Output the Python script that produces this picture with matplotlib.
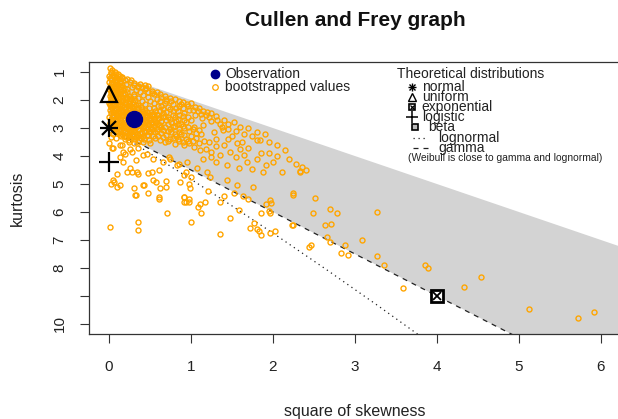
import numpy as np
import matplotlib
matplotlib.use("Agg")
import matplotlib.pyplot as plt

plt.rcParams['font.family'] = ['Liberation Sans', 'DejaVu Sans']

# ---------------- data ----------------
x_ticks = [0, 1, 2, 3, 4, 5, 6]
y_ticks = [1, 2, 3, 4, 5, 6, 7, 8, 9, 10]
y_tick_labels = ["1", "2", "3", "4", "5", "6", "7", "8", "", "10"]

observation_sq_skew = [0.30]
observation_kurt = [2.68]

# theoretical distributions (square of skewness, kurtosis)
normal_pt = (0.0, 3.0)
uniform_pt = (0.0, 1.8)
logistic_pt = (0.0, 4.2)
exponential_pt = (4.0, 9.0)

beta_region_sq_skew = [0.0, 7.0, 7.0, 0.0]
beta_region_kurt = [1.0, 8.0, 13.5, 3.0]

gamma_sq_skew = [0.0, 7.0]
gamma_kurt = [3.0, 13.5]

lognormal_sq_skew = [0.0, 0.1824, 0.4651, 0.961, 1.4884, 2.048, 2.6406, 3.267, 3.9279]
lognormal_kurt = [3.0, 3.326, 3.838, 4.756, 5.758, 6.850, 8.035, 9.320, 10.710]

# bootstrapped values (square of skewness, kurtosis)
boot_core = [
    (0.01, 0.86), (0.04, 0.93), (0.02, 1.02), (0.07, 1.00), (0.11, 1.06), (0.00, 1.13), (0.05, 1.12),
    (0.09, 1.16), (0.13, 1.13), (0.02, 1.24), (0.07, 1.27), (0.12, 1.25), (0.16, 1.21), (0.00, 1.35),
    (0.04, 1.38), (0.09, 1.36), (0.14, 1.34), (0.19, 1.30), (0.02, 1.48), (0.06, 1.51), (0.11, 1.47),
    (0.16, 1.45), (0.21, 1.42), (0.00, 1.60), (0.04, 1.63), (0.08, 1.58), (0.13, 1.61), (0.18, 1.56),
    (0.03, 1.73), (0.07, 1.70), (0.11, 1.75), (0.15, 1.68), (0.22, 1.62),
    (0.01, 1.84), (0.05, 1.86), (0.09, 1.82), (0.14, 1.88), (0.19, 1.80), (0.24, 1.85), (0.02, 1.97),
    (0.07, 2.00), (0.12, 1.95), (0.17, 1.99), (0.22, 1.94), (0.27, 1.98), (0.00, 2.10), (0.04, 2.12),
    (0.09, 2.08), (0.14, 2.13), (0.19, 2.07), (0.24, 2.11), (0.29, 2.06), (0.03, 2.24), (0.08, 2.27),
    (0.13, 2.22), (0.18, 2.26), (0.23, 2.21), (0.28, 2.25), (0.33, 2.19), (0.01, 2.37), (0.06, 2.35),
    (0.11, 2.39), (0.16, 2.34), (0.21, 2.38), (0.26, 2.33), (0.31, 2.37), (0.36, 2.30),
    (0.02, 2.47), (0.08, 2.50), (0.13, 2.45), (0.19, 2.49), (0.25, 2.46), (0.31, 2.51), (0.37, 2.44),
    (0.43, 2.48), (0.49, 2.52), (0.00, 2.61), (0.05, 2.58), (0.11, 2.62), (0.16, 2.57), (0.22, 2.60),
    (0.28, 2.63), (0.34, 2.59), (0.40, 2.56), (0.46, 2.61), (0.53, 2.58), (0.03, 2.71), (0.09, 2.74),
    (0.14, 2.70), (0.20, 2.73), (0.26, 2.69), (0.38, 2.72), (0.44, 2.75), (0.50, 2.70), (0.56, 2.74),
    (0.01, 2.83), (0.06, 2.86), (0.12, 2.82), (0.17, 2.85), (0.23, 2.87), (0.35, 2.84), (0.41, 2.81),
    (0.47, 2.86), (0.53, 2.83), (0.04, 2.95), (0.10, 2.98), (0.15, 2.94), (0.21, 2.97), (0.27, 2.99),
    (0.33, 2.96), (0.39, 2.93), (0.45, 2.97), (0.51, 2.95), (0.02, 3.07), (0.08, 3.10), (0.13, 3.06),
    (0.19, 3.09), (0.25, 3.11), (0.31, 3.08), (0.37, 3.05), (0.43, 3.09), (0.49, 3.12), (0.05, 3.21),
    (0.11, 3.18), (0.16, 3.22), (0.22, 3.19), (0.28, 3.23), (0.34, 3.20), (0.40, 3.17), (0.46, 3.24),
    (0.03, 3.31), (0.09, 3.34), (0.15, 3.30), (0.21, 3.33), (0.27, 3.35), (0.33, 3.31), (0.39, 3.36),
]

boot_core_fill = [
    (0.03, 0.98), (0.08, 1.08), (0.01, 1.20), (0.06, 1.19), (0.10, 1.30), (0.03, 1.42), (0.08, 1.44),
    (0.13, 1.40), (0.01, 1.55), (0.06, 1.57), (0.10, 1.53), (0.15, 1.52), (0.02, 1.67), (0.06, 1.66),
    (0.10, 1.64), (0.17, 1.63), (0.05, 1.79), (0.09, 1.77), (0.13, 1.80), (0.18, 1.74), (0.22, 1.72),
    (0.03, 1.91), (0.07, 1.93), (0.11, 1.90), (0.16, 1.92), (0.21, 1.89), (0.26, 1.91), (0.31, 1.87),
    (0.02, 2.04), (0.06, 2.03), (0.11, 2.02), (0.16, 2.05), (0.21, 2.01), (0.26, 2.04), (0.32, 2.00),
    (0.01, 2.17), (0.06, 2.19), (0.11, 2.16), (0.16, 2.18), (0.21, 2.15), (0.26, 2.18), (0.31, 2.14),
    (0.36, 2.16), (0.04, 2.30), (0.09, 2.31), (0.14, 2.29), (0.19, 2.31), (0.24, 2.28), (0.29, 2.30),
    (0.34, 2.27), (0.40, 2.32),
    (0.05, 2.41), (0.10, 2.43), (0.16, 2.40), (0.22, 2.42), (0.28, 2.41), (0.34, 2.43), (0.40, 2.40),
    (0.46, 2.42), (0.05, 2.54), (0.10, 2.53), (0.16, 2.55), (0.22, 2.52), (0.28, 2.54), (0.34, 2.53),
    (0.40, 2.50), (0.46, 2.54), (0.52, 2.50), (0.58, 2.53), (0.02, 2.66), (0.07, 2.67), (0.13, 2.65),
    (0.19, 2.66), (0.25, 2.64), (0.31, 2.66), (0.37, 2.65), (0.43, 2.67), (0.49, 2.64), (0.55, 2.66),
    (0.61, 2.64), (0.04, 2.78), (0.09, 2.79), (0.15, 2.77), (0.21, 2.79), (0.27, 2.78), (0.33, 2.80),
    (0.39, 2.77), (0.45, 2.79), (0.51, 2.78), (0.57, 2.80), (0.63, 2.76), (0.02, 2.90), (0.07, 2.91),
    (0.13, 2.89), (0.19, 2.91), (0.25, 2.90), (0.31, 2.92), (0.37, 2.89), (0.43, 2.91), (0.49, 2.90),
    (0.55, 2.92), (0.61, 2.89), (0.06, 3.02), (0.12, 3.03), (0.17, 3.01), (0.23, 3.03), (0.29, 3.02),
    (0.35, 3.04), (0.41, 3.01), (0.47, 3.03), (0.53, 3.02), (0.59, 3.04), (0.09, 3.14), (0.14, 3.15),
    (0.20, 3.13), (0.26, 3.15), (0.32, 3.14), (0.38, 3.16), (0.44, 3.13), (0.50, 3.15), (0.56, 3.14),
    (0.13, 3.26), (0.18, 3.27), (0.24, 3.25), (0.30, 3.27), (0.36, 3.26), (0.42, 3.28), (0.48, 3.25),
    (0.54, 3.27), (0.19, 3.40), (0.25, 3.41), (0.31, 3.39), (0.37, 3.41), (0.43, 3.40), (0.49, 3.42),
    (0.24, 3.50), (0.30, 3.52), (0.36, 3.49), (0.42, 3.51), (0.50, 3.53),
]

boot_near_core = [
    (0.16, 1.18), (0.22, 1.24), (0.27, 1.29), (0.26, 1.35), (0.31, 1.40), (0.38, 1.42), (0.28, 1.52),
    (0.35, 1.48), (0.44, 1.46), (0.47, 1.50), (0.40, 1.55), (0.33, 1.63), (0.44, 1.62), (0.38, 1.70),
    (0.48, 1.72), (0.52, 1.66), (0.30, 1.80), (0.42, 1.83), (0.55, 1.80), (0.36, 1.92), (0.47, 1.90),
    (0.58, 1.95), (0.63, 1.88), (0.40, 2.03), (0.50, 2.02), (0.62, 2.05), (0.44, 2.15), (0.55, 2.12),
    (0.68, 2.10), (0.39, 2.26), (0.49, 2.28), (0.60, 2.22), (0.72, 2.25), (0.44, 2.36), (0.56, 2.40),
    (0.66, 2.33), (0.78, 2.38),
]

boot_upper_gray = [
    (0.30, 1.45), (0.36, 1.55), (0.45, 1.58), (0.52, 1.75), (0.58, 1.72), (0.62, 1.80), (0.68, 1.86),
    (0.70, 1.95), (0.75, 1.92), (0.80, 1.98), (0.76, 2.05), (0.85, 2.02), (0.90, 2.08), (0.88, 2.15),
    (0.96, 2.22), (1.00, 2.12), (1.05, 2.25), (1.02, 2.35), (1.10, 2.30), (1.15, 2.38), (1.12, 2.50),
    (1.18, 2.55), (1.25, 2.48), (1.22, 2.62), (1.30, 2.58), (1.32, 2.70), (1.40, 2.72), (1.38, 2.95),
    (1.45, 2.85), (1.52, 2.80), (1.55, 3.10), (1.60, 2.95), (1.65, 3.20), (1.70, 3.00), (1.75, 3.30),
    (1.90, 3.20), (1.95, 3.50), (2.05, 3.60), (2.15, 3.80), (2.20, 4.10), (1.60, 3.75), (1.85, 3.90),
    (1.45, 3.40), (1.30, 3.65), (1.18, 3.75), (1.25, 4.05),
]

boot_gray = [
    (0.60, 2.55), (0.66, 2.48), (0.72, 2.60), (0.78, 2.52), (0.84, 2.66), (0.90, 2.58), (0.70, 2.72),
    (0.76, 2.80), (0.82, 2.75), (0.88, 2.86), (0.94, 2.78), (1.00, 2.70), (0.62, 2.88), (0.68, 2.95),
    (0.74, 3.02), (0.80, 2.93), (0.86, 3.05), (0.92, 3.00), (0.98, 3.12), (1.04, 2.95), (1.10, 3.08),
    (0.58, 3.10), (0.64, 3.18), (0.70, 3.26), (0.76, 3.15), (0.82, 3.30), (0.88, 3.22), (0.94, 3.38),
    (1.00, 3.28), (1.06, 3.35), (1.12, 3.20), (0.56, 3.35), (0.62, 3.42), (0.68, 3.50), (0.74, 3.40),
    (0.80, 3.58), (0.86, 3.48), (0.92, 3.62), (0.98, 3.55), (1.04, 3.66), (1.16, 3.45), (0.84, 2.40),
    (0.92, 2.45), (0.98, 2.35), (0.74, 2.32), (0.86, 2.20), (0.64, 2.20), (0.95, 2.15), (1.05, 2.55),
    (1.08, 2.40), (1.14, 2.65), (1.20, 2.42), (1.28, 3.14), (1.39, 3.08), (1.45, 3.02), (1.56, 3.55),
    (1.62, 3.49), (1.80, 3.43), (1.84, 3.43), (1.80, 3.14), (1.48, 3.85), (1.11, 3.79), (1.15, 4.09),
    (1.25, 3.85), (1.31, 4.20), (1.44, 4.32), (1.58, 4.44), (1.68, 4.20), (1.80, 4.09), (1.92, 4.32),
    (2.00, 4.20), (2.11, 4.56), (1.88, 4.56), (2.33, 4.56), (1.25, 2.75), (1.35, 2.85), (1.15, 2.90),
    (1.30, 3.40), (1.40, 3.60), (1.50, 3.30), (1.70, 3.70), (1.65, 3.95), (1.95, 3.90), (2.05, 4.00),
    (1.35, 3.95), (1.22, 3.50), (1.55, 4.05), (1.75, 4.45), (1.07, 4.44), (0.85, 4.27), (0.94, 4.57),
    (1.00, 4.75), (0.73, 4.03),
    (0.55, 2.30), (0.62, 2.38), (0.70, 2.42), (0.66, 2.60), (0.74, 2.68), (0.80, 2.62), (0.86, 2.52),
    (0.92, 2.70), (0.96, 2.62), (0.64, 2.75), (0.72, 2.86), (0.78, 2.98), (0.84, 2.85), (0.90, 2.92),
    (0.96, 2.98), (1.02, 3.05), (0.66, 3.06), (0.72, 3.12), (0.80, 3.20), (0.86, 3.14), (0.92, 3.26),
    (1.06, 3.18), (0.66, 3.32), (0.72, 3.45), (0.78, 3.35), (0.84, 3.40), (0.90, 3.50), (0.96, 3.45),
    (1.02, 3.48), (1.10, 3.55), (0.60, 3.28), (0.58, 2.85), (0.63, 2.95), (0.70, 2.05), (0.78, 2.15),
    (0.82, 2.30), (0.90, 2.28), (0.55, 2.50), (0.60, 2.65), (0.68, 2.58),
]

boot_below = [
    (0.00, 3.55), (0.04, 3.73), (0.05, 3.73), (0.13, 3.61), (0.16, 3.62), (0.17, 3.85), (0.26, 3.74),
    (0.28, 3.85), (0.36, 3.73), (0.46, 3.91), (0.20, 3.91), (0.14, 4.03), (0.33, 4.15), (0.41, 3.97),
    (0.54, 4.09), (0.66, 4.20), (0.74, 4.09), (0.83, 4.32), (0.95, 4.20), (0.17, 4.20), (0.26, 4.44),
    (0.34, 4.56), (0.28, 4.57), (0.22, 4.57), (0.10, 4.63), (0.35, 4.63), (0.47, 4.61), (0.53, 4.57),
    (0.61, 4.51), (0.54, 4.85), (0.05, 4.85), (0.02, 4.99), (0.06, 4.93), (0.10, 5.11), (0.13, 5.03),
    (0.30, 5.15), (0.42, 5.03), (0.43, 5.05), (0.57, 4.93), (0.62, 5.15), (0.69, 5.11), (0.70, 4.91),
    (0.87, 4.93), (0.98, 4.99), (0.91, 4.68), (0.99, 5.15), (0.91, 5.45), (1.19, 4.56), (1.23, 4.74),
    (1.44, 4.85), (1.56, 5.03), (1.76, 5.09), (0.33, 5.41), (0.61, 5.53), (0.94, 5.65), (0.98, 5.53),
    (1.08, 5.83),
]

boot_tail = [
    (0.01, 6.53), (0.35, 6.36), (0.35, 6.63), (0.32, 5.38), (0.47, 5.32), (0.61, 5.48), (0.71, 6.03),
    (0.92, 5.47), (0.92, 5.65), (0.98, 5.65), (1.11, 5.73), (1.17, 5.64), (1.12, 6.03), (1.00, 6.35),
    (1.21, 5.26), (1.40, 5.44), (1.36, 5.64), (1.52, 5.32), (1.63, 5.44), (1.70, 5.53), (1.58, 5.94),
    (1.47, 6.23), (1.35, 6.79), (1.91, 5.73), (1.97, 5.56), (1.98, 5.67), (1.95, 5.97), (1.97, 6.05),
    (1.85, 6.05), (1.77, 6.41), (1.72, 6.58), (1.81, 6.62), (1.83, 6.68), (1.85, 6.81), (1.97, 6.74),
    (2.03, 6.68), (2.24, 6.48), (2.24, 5.38), (2.44, 7.24), (2.25, 5.33), (2.28, 4.27), (2.35, 4.40),
    (2.33, 4.52), (2.40, 4.49), (2.51, 5.50), (2.70, 5.91), (2.49, 6.04), (2.78, 6.04), (3.27, 5.99),
    (2.23, 6.48), (2.64, 6.47), (2.71, 6.44), (2.66, 6.88), (2.70, 7.07), (2.46, 7.18), (2.88, 7.19),
    (3.09, 7.01), (2.83, 7.45), (2.91, 7.52), (3.27, 7.56), (3.35, 7.88), (3.59, 8.70), (3.85, 7.88),
    (3.89, 8.01), (4.33, 8.69), (4.54, 8.33), (5.12, 9.47), (5.72, 9.79), (5.91, 9.58),
]

# ---------------- figure ----------------
W, H = 618, 419
fig = plt.figure(figsize=(W / 100, H / 100), dpi=100)
ax_left, ax_right, ax_top, ax_bot = 89.3, 620.6, 62.0, 334.0
ax = fig.add_axes([ax_left / W, (H - ax_bot) / H, (ax_right - ax_left) / W, (ax_bot - ax_top) / H])

ax.set_xlim(-0.24, 6.24)
ax.set_ylim(10.36, 0.64)

ax.fill(beta_region_sq_skew, beta_region_kurt, color="#D3D3D3", lw=0, zorder=1)
ax.plot(lognormal_sq_skew, lognormal_kurt, color="#222222", lw=0.9, ls=(0, (1, 3)), zorder=2)
ax.plot(gamma_sq_skew, gamma_kurt, color="#222222", lw=0.9, ls=(0, (4, 4)), zorder=2)

boot_all = boot_core + boot_core_fill + boot_near_core + boot_upper_gray + boot_gray + boot_below + boot_tail
bx = [p[0] for p in boot_all]
by = [p[1] for p in boot_all]
ax.plot(bx, by, ls="none", marker="o", ms=3.6, mfc="none", mec="#FFA500", mew=1.0, zorder=3)

# theoretical points
ax.plot([normal_pt[0]], [normal_pt[1]], marker="+", ms=13, mew=1.6, color="black", ls="none", zorder=5, clip_on=False)
ax.plot([normal_pt[0]], [normal_pt[1]], marker="x", ms=9.5, mew=1.6, color="black", ls="none", zorder=5, clip_on=False)
ax.plot([uniform_pt[0]], [uniform_pt[1]], marker="^", ms=12, mew=1.6, mfc="none", mec="black", ls="none", zorder=5, clip_on=False)
ax.plot([logistic_pt[0]], [logistic_pt[1]], marker="+", ms=14, mew=1.6, color="black", ls="none", zorder=5, clip_on=False)
ax.plot([exponential_pt[0]], [exponential_pt[1]], marker="s", ms=9, mew=2.0, mfc="white", mec="black", ls="none", zorder=5)
ax.plot([exponential_pt[0]], [exponential_pt[1]], marker="x", ms=6, mew=1.3, color="black", ls="none", zorder=6)

ax.plot(observation_sq_skew, observation_kurt, ls="none", marker="o", ms=11.5, color="#00008B", zorder=7)

ax.set_xticks(x_ticks)
ax.set_xticklabels([str(v) for v in x_ticks])
ax.set_yticks(y_ticks)
ax.set_yticklabels(y_tick_labels)
ax.tick_params(axis="both", direction="out", length=6.5, width=0.8, color="#333333",
               labelsize=11, labelcolor="#222222")
ax.tick_params(axis="x", pad=12)
ax.tick_params(axis="y", pad=10, labelrotation=90)
for lab in ax.get_yticklabels():
    lab.set_va("center")
for s in ax.spines.values():
    s.set_color("#333333")
    s.set_linewidth(0.9)

# ---------------- overlay for texts / legends in pixel coordinates ----------------
ov = fig.add_axes([0, 0, 1, 1], facecolor="none")
ov.set_xlim(0, W)
ov.set_ylim(H, 0)
ov.axis("off")

ov.text(355, 20, "Cullen and Frey graph", ha="center", va="center", fontsize=15, fontweight="bold", color="#111111")
ov.text(355, 411, "square of skewness", ha="center", va="center", fontsize=11.5, color="#222222")
ov.text(17, 198, "kurtosis", ha="center", va="center", rotation=90, fontsize=11.5, color="#222222")

# left legend
ov.plot([215], [74], marker="o", ms=6, color="#00008B", ls="none")
ov.text(225, 74, "Observation", ha="left", va="center", fontsize=10, color="#222222")
ov.plot([215], [87], marker="o", ms=4, mfc="none", mec="#FFA500", mew=0.9, ls="none")
ov.text(225, 87, "bootstrapped values", ha="left", va="center", fontsize=10, color="#222222")

# right legend
ov.text(397, 74, "Theoretical distributions", ha="left", va="center", fontsize=10, color="#222222")
sx = 411.7
ov.plot([sx], [87.3], marker="+", ms=6, mew=1.0, color="black", ls="none")
ov.plot([sx], [87.3], marker="x", ms=4.5, mew=1.0, color="black", ls="none")
ov.text(421.7, 87.3, "normal", ha="left", va="center", fontsize=10, color="#222222")
ov.plot([sx], [97.3], marker="^", ms=5.5, mew=1.0, mfc="none", mec="black", ls="none")
ov.text(421.7, 97.3, "uniform", ha="left", va="center", fontsize=10, color="#222222")
ov.plot([sx], [106.7], marker="s", ms=5, mew=1.2, mfc="white", mec="black", ls="none")
ov.plot([sx], [106.7], marker="x", ms=3.2, mew=0.9, color="black", ls="none")
ov.text(421.7, 106.7, "exponential", ha="left", va="center", fontsize=10, color="#222222")
ov.plot([sx], [116.7], marker="+", ms=8, mew=1.1, color="black", ls="none")
ov.text(421.7, 116.7, "logistic", ha="left", va="center", fontsize=10, color="#222222")
ov.plot([415], [126.7], marker="s", ms=4.5, mew=1.2, mfc="#BBBBBB", mec="black", ls="none")
ov.text(428.3, 126.7, "beta", ha="left", va="center", fontsize=10, color="#222222")
ov.plot([413, 428], [138.3, 138.3], color="#222222", lw=0.9, ls=(0, (1, 3)))
ov.text(438.3, 138.3, "lognormal", ha="left", va="center", fontsize=10, color="#222222")
ov.plot([413, 428], [148.3, 148.3], color="#222222", lw=0.9, ls=(0, (4, 4)))
ov.text(438.3, 148.3, "gamma", ha="left", va="center", fontsize=10, color="#222222")
ov.text(408, 158.3, "(Weibull is close to gamma and lognormal)", ha="left", va="center", fontsize=7.4, color="#222222")

fig.savefig("out.png", dpi=100)
